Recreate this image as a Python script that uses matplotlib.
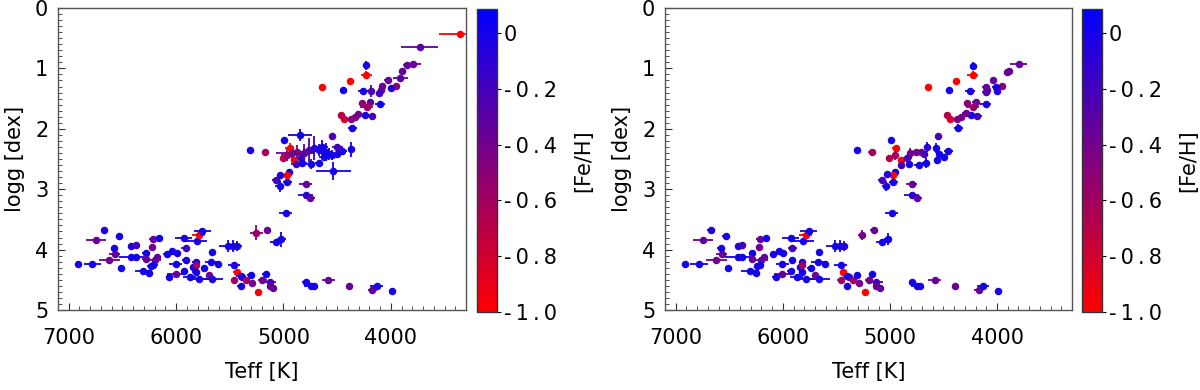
import matplotlib
matplotlib.use("Agg")
import matplotlib.pyplot as plt
import numpy as np
from matplotlib.colors import LinearSegmentedColormap, Normalize
from matplotlib.ticker import MultipleLocator, FixedLocator
import matplotlib.colorbar as mcolorbar

plt.rcParams['font.family'] = ['DejaVu Sans']

# ---------------- data ----------------
# main-sequence / subgiant stars (same in both panels)
dwarf_teff = [6674, 6745, 6534, 6580, 6913, 6782, 6621, 6571, 6512, 6419, 6378, 6416, 6378, 6285,
              6285, 6213, 6157, 6220, 6176, 6201, 6213, 6238, 6307, 6254, 6089, 6036, 5996, 6005,
              6067, 6005, 5928, 5912, 5810, 5788, 5757, 5912, 5928, 5872, 5841, 5819, 5819, 5819,
              5788, 5741, 5695, 5663, 5663, 5673, 5607, 5517, 5468, 5430, 5461, 5437, 5461, 5399,
              5383, 5349, 5306, 5290, 5399, 5234, 5197, 5166, 5126, 5126, 5095, 4793, 4746, 4715,
              4582, 4389, 4171, 4131, 3991]
dwarf_logg = [3.68, 3.84, 3.77, 3.98, 4.24, 4.24, 4.17, 4.08, 4.30, 3.94, 3.92, 4.13, 4.12, 4.06,
              4.16, 3.83, 3.81, 3.95, 4.12, 4.17, 4.26, 4.27, 4.35, 4.39, 4.08, 4.02, 4.06, 4.24,
              4.46, 4.40, 3.80, 3.98, 3.85, 3.75, 3.70, 4.17, 4.35, 4.45, 4.28, 4.20, 4.25, 4.37,
              4.49, 4.31, 4.42, 4.48, 4.04, 4.21, 4.24, 3.94, 3.94, 3.94, 4.26, 4.37, 4.50, 4.44,
              4.45, 4.50, 4.42, 4.56, 4.61, 4.71, 4.50, 4.40, 4.53, 4.61, 4.63, 4.54, 4.61, 4.61,
              4.50, 4.61, 4.67, 4.61, 4.69]
dwarf_feh = [-0.05, -0.35, 0.0, 0.0, 0.0, 0.0, -0.40, -0.35, 0.0, -0.05, -0.20, 0.0, 0.0, 0.0,
             -0.35, -0.35, 0.0, -0.40, -0.35, -0.35, 0.0, 0.0, 0.0, 0.0, 0.0, 0.0, 0.0, 0.0,
             0.0, -0.35, 0.0, -0.20, 0.0, -1.0, 0.0, 0.0, 0.0, 0.0, 0.0, 0.0, -0.60, 0.0,
             0.0, 0.0, -0.40, 0.0, 0.0, 0.0, 0.0, 0.0, 0.0, -0.05, 0.0, -1.0, -0.60, 0.0,
             -0.10, -0.60, 0.0, -0.40, 0.0, -1.0, -0.40, 0.0, -0.20, -0.35, -0.35, 0.0, 0.0, 0.0,
             -0.35, -0.35, -0.35, 0.0, 0.0]
dwarf_eteff = [30, 90, 30, 30, 30, 80, 100, 50, 30, 30, 30, 120, 40, 30,
               30, 40, 30, 30, 30, 60, 40, 30, 80, 40, 30, 30, 30, 60,
               30, 80, 80, 40, 100, 60, 80, 30, 30, 60, 30, 30, 30, 30,
               100, 30, 30, 100, 30, 60, 30, 80, 30, 40, 60, 30, 30, 40,
               30, 30, 30, 30, 30, 30, 40, 30, 60, 30, 30, 30, 60, 30,
               60, 30, 40, 60, 30]
dwarf_elogg = [0.03, 0.03, 0.03, 0.03, 0.03, 0.03, 0.03, 0.03, 0.03, 0.03, 0.03, 0.03, 0.03, 0.03,
               0.03, 0.03, 0.03, 0.03, 0.03, 0.03, 0.03, 0.03, 0.03, 0.03, 0.03, 0.03, 0.03, 0.03,
               0.03, 0.03, 0.03, 0.03, 0.03, 0.08, 0.03, 0.03, 0.03, 0.03, 0.03, 0.03, 0.03, 0.03,
               0.03, 0.03, 0.03, 0.03, 0.03, 0.03, 0.03, 0.10, 0.10, 0.08, 0.03, 0.03, 0.03, 0.03,
               0.03, 0.03, 0.03, 0.03, 0.03, 0.03, 0.03, 0.03, 0.03, 0.03, 0.03, 0.03, 0.03, 0.03,
               0.03, 0.03, 0.03, 0.03, 0.03]

# giants, left panel
left_teff = [3357, 3733, 3798, 3854, 3892, 3913, 3951, 4000, 4031, 4078, 4090, 4108, 4100, 4227,
             4227, 4187, 4255, 4190, 4271, 4224, 4243, 4180, 4302, 4333, 4367, 4435, 4460, 4358,
             4442, 4380, 4638, 4846, 4544, 4995, 5312, 5169, 4942, 5007, 4902, 4964, 4918, 4871,
             4809, 4762, 4715, 4669, 4638, 4606, 4575, 4544, 4497, 4451, 4373, 4504, 4840, 4887,
             4824, 4746, 4669, 4622, 4535, 4949, 4970, 5033, 5073, 4964, 5036, 4793, 4793, 4753,
             4979, 5150, 5252, 5019, 5071]
left_logg = [0.43, 0.64, 0.93, 0.94, 1.04, 1.16, 1.29, 1.33, 1.19, 1.29, 1.35, 1.40, 1.59, 0.95,
             1.11, 1.37, 1.37, 1.55, 1.57, 1.64, 1.77, 1.79, 1.75, 1.80, 1.84, 1.83, 1.77, 1.99,
             1.36, 1.21, 1.31, 2.11, 2.12, 2.19, 2.35, 2.39, 2.31, 2.48, 2.51, 2.43, 2.40, 2.38,
             2.40, 2.35, 2.32, 2.35, 2.30, 2.38, 2.41, 2.43, 2.41, 2.36, 2.34, 2.30, 2.49, 2.58,
             2.57, 2.58, 2.56, 2.46, 2.70, 2.71, 2.77, 2.77, 2.85, 2.88, 2.95, 2.91, 3.10, 3.15,
             3.39, 3.68, 3.72, 3.83, 3.88]
left_feh = [-1.0, -0.30, -0.35, -0.35, -0.35, -0.30, -0.50, -0.10, -0.35, -0.35, -0.35, -0.20, 0.0, 0.0,
            -1.0, -0.25, 0.0, -0.35, -0.50, -0.60, 0.0, -0.20, -0.40, -0.40, -0.50, -0.80, -0.70, 0.0,
            0.0, -1.0, -1.0, 0.0, -0.25, 0.0, 0.0, -0.60, -1.0, -0.70, -1.0, -0.55, -0.40, -0.40,
            -0.35, -0.25, -0.10, 0.0, 0.0, 0.0, 0.0, 0.0, 0.0, 0.0, 0.0, -0.20, -0.20, -0.20,
            0.0, 0.0, 0.0, 0.0, 0.0, 0.0, -1.0, -0.05, -0.20, 0.0, 0.0, -0.35, -0.10, -0.35,
            0.0, -0.35, -0.55, 0.0, 0.0]
left_eteff = [190, 170, 80, 30, 30, 70, 30, 30, 30, 30, 30, 30, 50, 20,
              50, 30, 50, 30, 30, 60, 30, 30, 30, 30, 30, 30, 30, 40,
              30, 30, 35, 110, 30, 30, 30, 30, 40, 30, 30, 60, 150, 60,
              100, 60, 40, 60, 50, 40, 80, 40, 40, 40, 30, 40, 40, 40,
              40, 40, 40, 50, 160, 30, 30, 30, 30, 40, 40, 60, 70, 50,
              60, 30, 60, 40, 50]
left_elogg = [0.03, 0.04, 0.03, 0.03, 0.03, 0.03, 0.03, 0.03, 0.03, 0.03, 0.03, 0.03, 0.03, 0.08,
              0.06, 0.10, 0.03, 0.03, 0.03, 0.03, 0.03, 0.03, 0.03, 0.03, 0.03, 0.03, 0.05, 0.06,
              0.03, 0.03, 0.03, 0.10, 0.03, 0.03, 0.03, 0.03, 0.08, 0.03, 0.03, 0.10, 0.10, 0.12,
              0.15, 0.20, 0.20, 0.10, 0.12, 0.15, 0.10, 0.08, 0.08, 0.08, 0.12, 0.05, 0.08, 0.05,
              0.05, 0.08, 0.05, 0.08, 0.15, 0.03, 0.03, 0.03, 0.03, 0.05, 0.10, 0.03, 0.05, 0.03,
              0.03, 0.03, 0.12, 0.12, 0.05]

# giants, right panel
right_teff = [3797, 3890, 3905, 4036, 3952, 4014, 3998, 4107, 4091, 4107, 4228, 4228, 4380, 4640,
              4445, 4253, 4200, 4278, 4107, 4228, 4247, 4184, 4293, 4333, 4371, 4439, 4464, 4361,
              4547, 4991, 5310, 5171, 4947, 5009, 4953, 4898, 4811, 4758, 4712, 4656, 4572, 4541,
              4495, 4454, 4563, 4681, 4836, 4898, 4820, 4733, 4665, 4953, 4975, 5028, 5078, 4969,
              5037, 4798, 4798, 4749, 4984, 5152, 5264, 5022, 5078]
right_logg = [0.93, 1.04, 1.06, 1.19, 1.29, 1.31, 1.37, 1.30, 1.36, 1.39, 0.96, 1.11, 1.21, 1.31,
              1.36, 1.37, 1.55, 1.57, 1.59, 1.64, 1.77, 1.79, 1.74, 1.80, 1.84, 1.83, 1.77, 1.98,
              2.12, 2.19, 2.35, 2.39, 2.31, 2.48, 2.44, 2.52, 2.40, 2.38, 2.38, 2.30, 2.32, 2.42,
              2.47, 2.37, 2.51, 2.41, 2.49, 2.60, 2.58, 2.60, 2.57, 2.71, 2.77, 2.75, 2.85, 2.88,
              2.95, 2.91, 3.10, 3.15, 3.39, 3.68, 3.76, 3.82, 3.88]
right_feh = [-0.35, -0.35, -0.35, -0.35, -0.50, 0.0, -0.05, -0.35, -0.35, -0.25, 0.0, -1.0, -1.0, -1.0,
             0.0, 0.0, -0.35, -0.50, -0.05, -0.60, 0.0, -0.20, -0.40, -0.40, -0.45, -0.85, -0.70, 0.0,
             -0.25, 0.0, 0.0, -0.60, -1.0, -0.70, -0.60, -1.0, -0.40, -0.40, -0.40, -0.05, 0.0, 0.0,
             0.0, 0.0, 0.0, -0.20, -0.20, -0.20, 0.0, 0.0, 0.0, 0.0, -1.0, -0.05, -0.20, 0.0,
             0.0, -0.35, -0.10, -0.35, 0.0, -0.35, -0.40, 0.0, 0.0]
right_eteff = [80, 30, 30, 30, 30, 30, 30, 30, 30, 30, 20, 50, 30, 35,
               30, 50, 30, 30, 50, 60, 30, 40, 30, 30, 30, 30, 30, 40,
               30, 30, 30, 30, 30, 30, 30, 30, 30, 60, 40, 30, 30, 30,
               30, 40, 30, 30, 40, 30, 30, 40, 40, 30, 30, 30, 30, 40,
               40, 50, 70, 50, 60, 30, 30, 30, 50]
right_elogg = [0.03, 0.03, 0.03, 0.03, 0.03, 0.03, 0.03, 0.03, 0.03, 0.03, 0.06, 0.06, 0.03, 0.03,
               0.03, 0.03, 0.03, 0.03, 0.03, 0.03, 0.03, 0.03, 0.03, 0.03, 0.03, 0.03, 0.05, 0.06,
               0.03, 0.03, 0.03, 0.03, 0.03, 0.03, 0.08, 0.03, 0.08, 0.05, 0.05, 0.08, 0.08, 0.05,
               0.05, 0.05, 0.03, 0.03, 0.05, 0.03, 0.03, 0.05, 0.08, 0.03, 0.03, 0.03, 0.03, 0.05,
               0.08, 0.03, 0.05, 0.03, 0.03, 0.03, 0.08, 0.10, 0.05]

xticks = [7000, 6000, 5000, 4000]
yticks = [0, 1, 2, 3, 4, 5]
cbar_ticks = [0.0, -0.2, -0.4, -0.6, -0.8, -1.0]
cbar_labels = ['0', '-0.2', '-0.4', '-0.6', '-0.8', '-1.0']

# ---------------- style ----------------
cmap = LinearSegmentedColormap.from_list('rb', [(1, 0, 0), (0, 0, 1)])
norm = Normalize(vmin=-1.0, vmax=0.086)
FS = 15


def track(s, sep='\u2009'):
    return sep.join(list(s))


fig = plt.figure(figsize=(12, 3.9), dpi=100)

panels = [
    (left_teff, left_logg, left_feh, left_eteff, left_elogg,
     [58 / 1200, 80 / 390, 408 / 1200, 302 / 390],
     [477 / 1200, 78 / 390, 20 / 1200, 303 / 390]),
    (right_teff, right_logg, right_feh, right_eteff, right_elogg,
     [665 / 1200, 80 / 390, 407 / 1200, 302 / 390],
     [1082 / 1200, 78 / 390, 20 / 1200, 303 / 390]),
]

for gt, gl, gf, get, gel, apos, cpos in panels:
    ax = fig.add_axes(apos)
    teff = list(dwarf_teff) + list(gt)
    logg = list(dwarf_logg) + list(gl)
    feh = list(dwarf_feh) + list(gf)
    et = list(dwarf_eteff) + list(get)
    el = list(dwarf_elogg) + list(gel)
    for t, g, f, e1, e2 in zip(teff, logg, feh, et, el):
        c = cmap(norm(f))
        ax.errorbar([t], [g], xerr=[e1], yerr=[e2], fmt='o', color=c, ecolor=c,
                    ms=5.4, mew=0, elinewidth=1.3, capsize=0)
    ax.set_xlim(7100, 3300)
    ax.set_ylim(5, 0)
    ax.xaxis.set_major_locator(FixedLocator(xticks))
    ax.set_xticklabels([str(v) for v in xticks])
    ax.xaxis.set_minor_locator(MultipleLocator(100))
    ax.yaxis.set_major_locator(FixedLocator(yticks))
    ax.set_yticklabels([str(v) for v in yticks])
    ax.yaxis.set_minor_locator(MultipleLocator(0.1))
    ax.tick_params(axis='both', which='both', direction='in', top=False, right=False,
                   colors='#333333', labelcolor='black', labelsize=FS)
    ax.tick_params(axis='both', which='major', length=5, width=0.8)
    ax.tick_params(axis='both', which='minor', length=3, width=0.6)
    ax.tick_params(axis='x', which='major', pad=13)
    ax.tick_params(axis='y', which='major', pad=7)
    for sp in ax.spines.values():
        sp.set_color('#555555')
        sp.set_linewidth(1.0)
    ax.set_xlabel('Teff [K]', fontsize=FS, labelpad=10)
    ax.set_ylabel('logg [dex]', fontsize=FS, labelpad=7)

    cax = fig.add_axes(cpos)
    cb = mcolorbar.ColorbarBase(cax, cmap=cmap, norm=norm, orientation='vertical')
    cb.set_ticks(cbar_ticks)
    cb.set_ticklabels([track(s) for s in cbar_labels])
    cb.ax.tick_params(labelsize=FS, length=3, width=0.8, direction='out', pad=2)
    cb.outline.set_edgecolor('#333333')
    cb.outline.set_linewidth(1.0)
    cb.set_label('[Fe/H]', fontsize=FS, labelpad=12)

fig.savefig('out.png', dpi=100)
